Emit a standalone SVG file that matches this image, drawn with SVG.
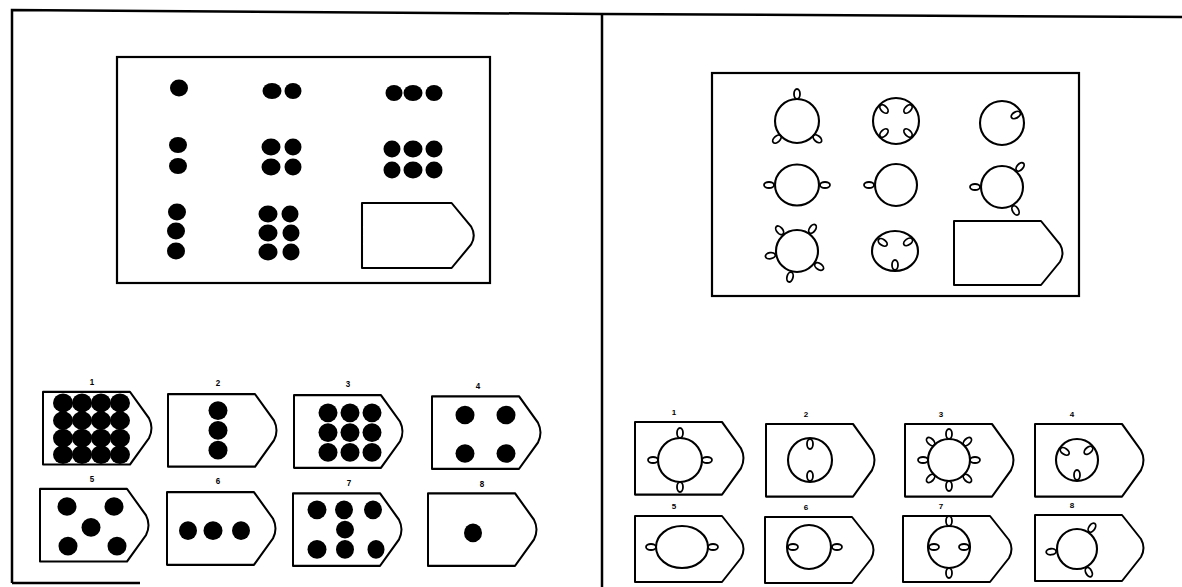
<svg xmlns="http://www.w3.org/2000/svg" xmlns:xlink="http://www.w3.org/1999/xlink" width="1182" height="587" viewBox="0 0 1182 587">
<style>
.frame{fill:none;stroke:#000;stroke-width:2.5}
.box{fill:none;stroke:#000;stroke-width:2.2}
.card{fill:#fff;stroke:#000;stroke-width:2;stroke-linejoin:round}
.dot{fill:#000}
.ring{fill:none;stroke:#000;stroke-width:2.1}
.loop{fill:none;stroke:#000;stroke-width:1.8}
.num{font-family:"Liberation Sans",Arial,sans-serif;font-size:8px;font-weight:bold;fill:#000;text-anchor:middle}
</style>
<defs>
<path id="cardShape" d="M0,0 H87 L106,24 Q111,33 106,42 L87,66 H0 Z"/>
</defs>
<rect width="1182" height="587" fill="#fff"/>
<g id="frame">
<path class="frame" d="M12,583 V10 L602,14 L1182,17"/>
<path class="frame" d="M602,14 V587"/>
<path class="frame" d="M12,583 H140"/>
</g>
<g id="left-matrix">
<rect class="box" x="117" y="57" width="373" height="226"/>
<ellipse class="dot" cx="179" cy="88" rx="9" ry="8.5"/>
<ellipse class="dot" cx="272" cy="91" rx="9.5" ry="8"/><ellipse class="dot" cx="293" cy="91" rx="8.5" ry="8"/>
<ellipse class="dot" cx="394" cy="93" rx="8.5" ry="8"/><ellipse class="dot" cx="413" cy="93" rx="9.5" ry="8"/><ellipse class="dot" cx="434" cy="93" rx="8.5" ry="8"/>
<ellipse class="dot" cx="178" cy="145" rx="9" ry="8"/><ellipse class="dot" cx="178" cy="166" rx="9" ry="8"/>
<ellipse class="dot" cx="271" cy="147" rx="9.5" ry="8.5"/><ellipse class="dot" cx="293" cy="147" rx="8.5" ry="8.5"/>
<ellipse class="dot" cx="271" cy="167" rx="9.5" ry="8.5"/><ellipse class="dot" cx="293" cy="167" rx="8.5" ry="8.5"/>
<ellipse class="dot" cx="392" cy="149" rx="8.5" ry="8.5"/><ellipse class="dot" cx="413" cy="149" rx="9.5" ry="8.5"/><ellipse class="dot" cx="434" cy="149" rx="8.5" ry="8.5"/>
<ellipse class="dot" cx="392" cy="170" rx="8.5" ry="8.5"/><ellipse class="dot" cx="413" cy="170" rx="9.5" ry="8.5"/><ellipse class="dot" cx="434" cy="170" rx="8.5" ry="8.5"/>
<ellipse class="dot" cx="177" cy="212" rx="9" ry="8.5"/><ellipse class="dot" cx="176" cy="231" rx="9" ry="8.5"/><ellipse class="dot" cx="176" cy="251" rx="9" ry="8.5"/>
<ellipse class="dot" cx="268" cy="214" rx="9.5" ry="8.5"/><ellipse class="dot" cx="290" cy="214" rx="8.5" ry="8.5"/>
<ellipse class="dot" cx="268" cy="233" rx="9.5" ry="8.5"/><ellipse class="dot" cx="291" cy="233" rx="8.5" ry="8.5"/>
<ellipse class="dot" cx="268" cy="252" rx="9.5" ry="8.5"/><ellipse class="dot" cx="291" cy="252" rx="8.5" ry="8.5"/>
<use href="#cardShape" class="card" transform="translate(362,203) scale(1.03,0.985)"/>
</g>
<g id="right-matrix">
<rect class="box" x="712" y="73" width="367" height="223"/>
<g transform="translate(797,121)"><circle class="ring" r="22"/>
<ellipse class="loop" rx="5" ry="3" transform="rotate(-90) translate(27,0)"/><ellipse class="loop" rx="5" ry="3" transform="rotate(138) translate(27,0)"/><ellipse class="loop" rx="5" ry="3" transform="rotate(41) translate(27,0)"/></g>
<g transform="translate(896,121)"><circle class="ring" r="23"/>
<ellipse class="loop" rx="5" ry="3" transform="rotate(-135) translate(17,0)"/><ellipse class="loop" rx="5" ry="3" transform="rotate(-45) translate(17,0)"/><ellipse class="loop" rx="5" ry="3" transform="rotate(45) translate(17,0)"/><ellipse class="loop" rx="5" ry="3" transform="rotate(135) translate(17,0)"/></g>
<g transform="translate(1002,123)"><circle class="ring" r="22"/>
<ellipse class="loop" rx="5" ry="3" transform="rotate(-30) translate(16,0)"/></g>
<g transform="translate(797,185)"><ellipse class="ring" rx="22" ry="20.5"/>
<ellipse class="loop" rx="5" ry="3" transform="rotate(180) translate(28,0)"/><ellipse class="loop" rx="5" ry="3" transform="translate(28,0)"/></g>
<g transform="translate(896,185)"><circle class="ring" r="21"/>
<ellipse class="loop" rx="5" ry="3" transform="rotate(180) translate(27,0)"/></g>
<g transform="translate(1002,187)"><circle class="ring" r="21"/>
<ellipse class="loop" rx="5" ry="3" transform="rotate(180) translate(27,0)"/><ellipse class="loop" rx="5" ry="3" transform="rotate(-48) translate(27,0)"/><ellipse class="loop" rx="5" ry="3" transform="rotate(60) translate(27,0)"/></g>
<g transform="translate(797,251)"><circle class="ring" r="21"/>
<ellipse class="loop" rx="5" ry="3" transform="rotate(-130) translate(27,0)"/><ellipse class="loop" rx="5" ry="3" transform="rotate(-55) translate(27,0)"/><ellipse class="loop" rx="5" ry="3" transform="rotate(170) translate(27,0)"/><ellipse class="loop" rx="5" ry="3" transform="rotate(105) translate(27,0)"/><ellipse class="loop" rx="5" ry="3" transform="rotate(35) translate(27,0)"/></g>
<g transform="translate(895,251)"><ellipse class="ring" rx="23" ry="20"/>
<ellipse class="loop" rx="5" ry="3" transform="rotate(-145) translate(15,0)"/><ellipse class="loop" rx="5" ry="3" transform="rotate(-35) translate(16,0)"/><ellipse class="loop" rx="5" ry="3" transform="rotate(90) translate(14,0)"/></g>
<use href="#cardShape" class="card" transform="translate(954,221) scale(1.0,0.97)"/>
</g>
<g id="left-answers">
<g id="left-row1" transform="translate(0,393) scale(1,1.1) translate(0,-371)">
<g id="L1"><text class="num" x="92" y="364">1</text><use href="#cardShape" class="card" x="43" y="370"/>
<ellipse class="dot" cx="63" cy="380" rx="10" ry="8.5"/><ellipse class="dot" cx="82" cy="380" rx="10" ry="8.5"/><ellipse class="dot" cx="101" cy="380" rx="10" ry="8.5"/><ellipse class="dot" cx="120" cy="380" rx="10" ry="8.5"/>
<ellipse class="dot" cx="63" cy="396" rx="10" ry="8.5"/><ellipse class="dot" cx="82" cy="396" rx="10" ry="8.5"/><ellipse class="dot" cx="101" cy="396" rx="10" ry="8.5"/><ellipse class="dot" cx="120" cy="396" rx="10" ry="8.5"/>
<ellipse class="dot" cx="63" cy="412" rx="10" ry="8.5"/><ellipse class="dot" cx="82" cy="412" rx="10" ry="8.5"/><ellipse class="dot" cx="101" cy="412" rx="10" ry="8.5"/><ellipse class="dot" cx="120" cy="412" rx="10" ry="8.5"/>
<ellipse class="dot" cx="63" cy="427" rx="10" ry="8.5"/><ellipse class="dot" cx="82" cy="427" rx="10" ry="8.5"/><ellipse class="dot" cx="101" cy="427" rx="10" ry="8.5"/><ellipse class="dot" cx="120" cy="427" rx="10" ry="8.5"/></g>
<g id="L2"><text class="num" x="218" y="365">2</text><use href="#cardShape" class="card" x="168" y="372"/>
<ellipse class="dot" cx="218" cy="387" rx="9.5" ry="8.5"/><ellipse class="dot" cx="218" cy="405" rx="9.5" ry="8.5"/><ellipse class="dot" cx="218" cy="423" rx="9.5" ry="8.5"/></g>
<g id="L3"><text class="num" x="348" y="366">3</text><use href="#cardShape" class="card" x="294" y="373"/>
<ellipse class="dot" cx="328" cy="389" rx="9.5" ry="8.5"/><ellipse class="dot" cx="350" cy="389" rx="9.5" ry="8.5"/><ellipse class="dot" cx="372" cy="389" rx="9.5" ry="8.5"/>
<ellipse class="dot" cx="328" cy="407" rx="9.5" ry="8.5"/><ellipse class="dot" cx="350" cy="407" rx="9.5" ry="8.5"/><ellipse class="dot" cx="372" cy="407" rx="9.5" ry="8.5"/>
<ellipse class="dot" cx="328" cy="425" rx="9.5" ry="8.5"/><ellipse class="dot" cx="350" cy="425" rx="9.5" ry="8.5"/><ellipse class="dot" cx="372" cy="425" rx="9.5" ry="8.5"/></g>
<g id="L4"><text class="num" x="478" y="367">4</text><use href="#cardShape" class="card" x="432" y="374"/>
<ellipse class="dot" cx="465" cy="391" rx="9.5" ry="8.5"/><ellipse class="dot" cx="506" cy="391" rx="9.5" ry="8.5"/>
<ellipse class="dot" cx="465" cy="426" rx="9.5" ry="8.5"/><ellipse class="dot" cx="506" cy="426" rx="9.5" ry="8.5"/></g>
</g>
<g id="left-row2" transform="translate(0,490) scale(1,1.1) translate(0,-479)">
<g id="L5"><text class="num" x="92" y="472">5</text><use href="#cardShape" class="card" x="40" y="478"/>
<ellipse class="dot" cx="67" cy="494" rx="9.5" ry="8.5"/><ellipse class="dot" cx="114" cy="494" rx="9.5" ry="8.5"/><ellipse class="dot" cx="91" cy="513" rx="9.5" ry="8.5"/><ellipse class="dot" cx="68" cy="530" rx="9.5" ry="8.5"/><ellipse class="dot" cx="117" cy="530" rx="9.5" ry="8.5"/></g>
<g id="L6"><text class="num" x="218" y="474">6</text><use href="#cardShape" class="card" x="167" y="481"/>
<ellipse class="dot" cx="188" cy="516" rx="9" ry="8.5"/><ellipse class="dot" cx="213" cy="516" rx="9.5" ry="8.5"/><ellipse class="dot" cx="241" cy="516" rx="9" ry="8.5"/></g>
<g id="L7"><text class="num" x="349" y="475">7</text><use href="#cardShape" class="card" x="293" y="482"/>
<ellipse class="dot" cx="317" cy="497" rx="9.5" ry="8.5"/><ellipse class="dot" cx="344" cy="497" rx="9" ry="8.5"/><ellipse class="dot" cx="373" cy="497" rx="9" ry="8.5"/>
<ellipse class="dot" cx="345" cy="515" rx="9" ry="8"/>
<ellipse class="dot" cx="317" cy="533" rx="9.5" ry="8.5"/><ellipse class="dot" cx="345" cy="533" rx="9" ry="8.5"/><ellipse class="dot" cx="376" cy="533" rx="8.5" ry="8.5"/></g>
<g id="L8"><text class="num" x="482" y="476">8</text><use href="#cardShape" class="card" x="428" y="482"/>
<ellipse class="dot" cx="473" cy="518" rx="9" ry="8.5"/></g>
</g>
</g>
<g id="right-answers">
<g id="R1"><text class="num" x="674" y="415">1</text><use href="#cardShape" class="card" transform="translate(635,422) scale(1,1.1)"/>
<g transform="translate(680,460)"><circle class="ring" r="22"/>
<ellipse class="loop" rx="5" ry="3" transform="rotate(-90) translate(27,0)"/><ellipse class="loop" rx="5" ry="3" transform="translate(27,0)"/><ellipse class="loop" rx="5" ry="3" transform="rotate(90) translate(27,0)"/><ellipse class="loop" rx="5" ry="3" transform="rotate(180) translate(27,0)"/></g></g>
<g id="R2"><text class="num" x="806" y="417">2</text><use href="#cardShape" class="card" transform="translate(766,424) scale(1,1.1)"/>
<g transform="translate(810,460)"><circle class="ring" r="22"/>
<ellipse class="loop" rx="5" ry="3" transform="rotate(-90) translate(16,0)"/><ellipse class="loop" rx="5" ry="3" transform="rotate(90) translate(16,0)"/></g></g>
<g id="R3"><text class="num" x="941" y="417">3</text><use href="#cardShape" class="card" transform="translate(905,424) scale(1,1.1)"/>
<g transform="translate(949,460)"><circle class="ring" r="21"/>
<ellipse class="loop" rx="5" ry="3" transform="translate(26,0)"/><ellipse class="loop" rx="5" ry="3" transform="rotate(45) translate(26,0)"/><ellipse class="loop" rx="5" ry="3" transform="rotate(90) translate(26,0)"/><ellipse class="loop" rx="5" ry="3" transform="rotate(135) translate(26,0)"/>
<ellipse class="loop" rx="5" ry="3" transform="rotate(180) translate(26,0)"/><ellipse class="loop" rx="5" ry="3" transform="rotate(-135) translate(26,0)"/><ellipse class="loop" rx="5" ry="3" transform="rotate(-90) translate(26,0)"/><ellipse class="loop" rx="5" ry="3" transform="rotate(-45) translate(26,0)"/></g></g>
<g id="R4"><text class="num" x="1072" y="417">4</text><use href="#cardShape" class="card" transform="translate(1035,424) scale(1,1.1)"/>
<g transform="translate(1077,460)"><circle class="ring" r="21"/>
<ellipse class="loop" rx="5" ry="3" transform="rotate(-145) translate(15,0)"/><ellipse class="loop" rx="5" ry="3" transform="rotate(-40) translate(15,0)"/><ellipse class="loop" rx="5" ry="3" transform="rotate(90) translate(15,0)"/></g></g>
<g id="right-row2" transform="translate(0,33)">
<g id="R5"><text class="num" x="674" y="476">5</text><use href="#cardShape" class="card" x="635" y="483"/>
<g transform="translate(682,514)"><ellipse class="ring" rx="26" ry="21"/>
<ellipse class="loop" rx="5" ry="3" transform="translate(31,0)"/><ellipse class="loop" rx="5" ry="3" transform="rotate(180) translate(31,0)"/></g></g>
<g id="R6"><text class="num" x="806" y="477">6</text><use href="#cardShape" class="card" x="765" y="484"/>
<g transform="translate(809,514)"><circle class="ring" r="22"/>
<ellipse class="loop" rx="5" ry="3" transform="rotate(180) translate(16,0)"/><ellipse class="loop" rx="5" ry="3" transform="translate(28,0)"/></g></g>
<g id="R7"><text class="num" x="941" y="476">7</text><use href="#cardShape" class="card" x="903" y="483"/>
<g transform="translate(949,514)"><circle class="ring" r="21"/>
<ellipse class="loop" rx="5" ry="3" transform="rotate(-90) translate(26,0)"/><ellipse class="loop" rx="5" ry="3" transform="rotate(90) translate(26,0)"/><ellipse class="loop" rx="5" ry="3" transform="rotate(180) translate(15,0)"/><ellipse class="loop" rx="5" ry="3" transform="translate(15,0)"/></g></g>
<g id="R8"><text class="num" x="1072" y="475">8</text><use href="#cardShape" class="card" x="1035" y="482"/>
<g transform="translate(1077,516)"><circle class="ring" r="20"/>
<ellipse class="loop" rx="5" ry="3" transform="rotate(-55) translate(26,0)"/><ellipse class="loop" rx="5" ry="3" transform="rotate(174) translate(26,0)"/><ellipse class="loop" rx="5" ry="3" transform="rotate(63) translate(26,0)"/></g></g>
</g>
</g>
</svg>
